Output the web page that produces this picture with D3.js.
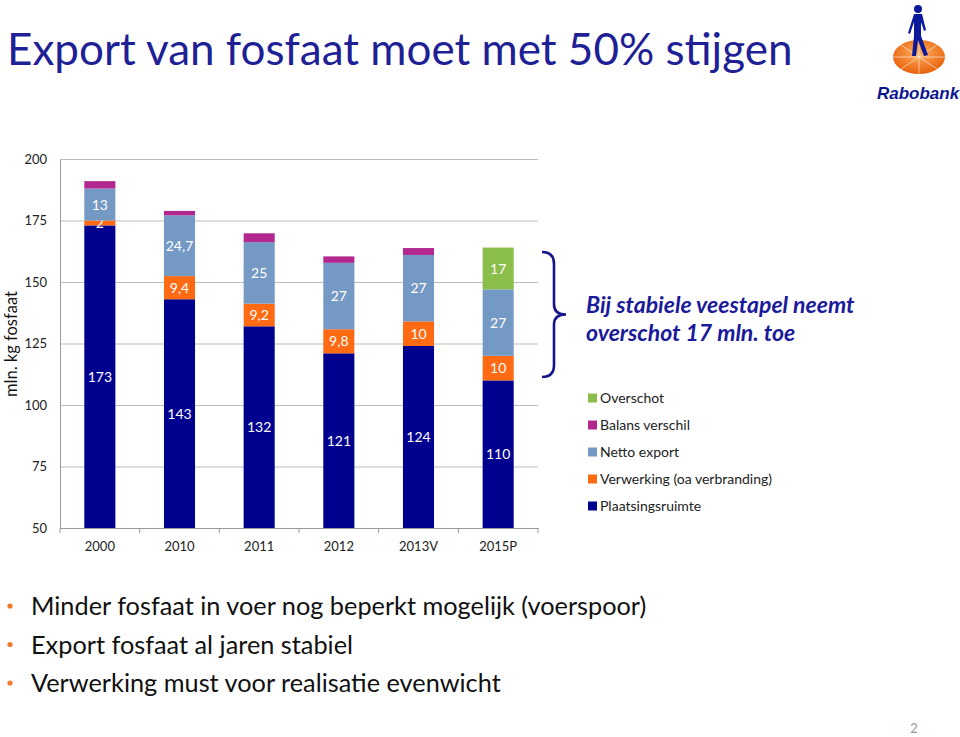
<!DOCTYPE html>
<html><head><meta charset="utf-8">
<script src="https://cdn.jsdelivr.net/npm/d3@7/dist/d3.min.js"></script>
<style>
html,body{margin:0;padding:0;background:#fff;}
svg{display:block;font-family:Lato,"Open Sans",sans-serif;}
</style></head>
<body>
<svg id="c" width="960" height="737"></svg>
<script>
// ---- data ----
const categories = ["2000","2010","2011","2012","2013V","2015P"];
const plaatsingsruimte = [173,143,132,121,124,110];
const verwerking      = [2,9.4,9.2,9.8,10,10];
const nettoExport     = [13,24.7,25,27,27,27];
const balansVerschil  = [3,1.8,3.6,2.6,2.8,0];
const overschot       = [0,0,0,0,0,17];
const yTicks = [50,75,100,125,150,175,200];
const seriesNames = ["Plaatsingsruimte","Verwerking (oa verbranding)","Netto export","Balans verschil","Overschot"];
const seriesLabelled = [true,true,true,false,true];
const legendOrder = ["Overschot","Balans verschil","Netto export","Verwerking (oa verbranding)","Plaatsingsruimte"];
const bullets = ["Minder fosfaat in voer nog beperkt mogelijk (voerspoor)","Export fosfaat al jaren stabiel","Verwerking must voor realisatie evenwicht"];

const colors = {"Plaatsingsruimte":"#00008f","Verwerking (oa verbranding)":"#ff6a13","Netto export":"#7399c4","Balans verschil":"#b3288f","Overschot":"#8abd4a"};
const seriesValues = [plaatsingsruimte,verwerking,nettoExport,balansVerschil,overschot];

const svg = d3.select("#c");
const navy = "#1f1f96";

// title
svg.append("text").attr("x",7).attr("y",65).attr("fill",navy)
  .style("font-size","44px").style("font-family","Lato, sans-serif")
  .text("Export van fosfaat moet met 50% stijgen");

// logo
const logo = svg.append("g");
const grad = svg.append("defs").append("radialGradient").attr("id","og").attr("cx","50%").attr("cy","40%").attr("r","60%");
grad.append("stop").attr("offset","0%").attr("stop-color","#ffb060");
grad.append("stop").attr("offset","100%").attr("stop-color","#e8600a");
logo.append("ellipse").attr("cx",919).attr("cy",57).attr("rx",26).attr("ry",17).attr("fill","url(#og)");
logo.append("path").attr("d","M893,57 L945,57 M919,40 L919,74 M901,45 L937,69 M901,69 L937,45").attr("stroke","#fff").attr("stroke-width",0.8).attr("opacity",0.7);
logo.append("circle").attr("cx",918).attr("cy",9).attr("r",4).attr("fill","#0a1a9a");
logo.append("path").attr("d","M914,14 L922,14 L926,30 L924,31 L921,22 L921,36 L928,55 L924,56 L918,40 L916,56 L912,56 L914,36 L914,22 L910,34 L908,33 Z").attr("fill","#0a1a9a");
logo.append("text").attr("x",918).attr("y",99).attr("text-anchor","middle").attr("fill","#0a1690")
  .style("font-size","17px").style("font-weight","bold").style("font-style","italic").style("font-family","Liberation Sans, Arial, sans-serif")
  .text("Rabobank");

// chart
const x0 = 60, x1 = 538, yTop = 159, yBot = 528;
const x = d3.scaleBand().domain(categories).range([x0,x1]).paddingInner(0.61).paddingOuter(0.305);
const y = d3.scaleLinear().domain([50,200]).range([yBot,yTop]).clamp(true);

// grid
const grid = svg.append("g").attr("transform",`translate(${x0},0)`)
  .call(d3.axisLeft(y).tickValues(yTicks).tickSize(-(x1-x0)).tickFormat(""));
grid.select(".domain").remove();
grid.selectAll("line").attr("stroke","#bdbdbd").attr("stroke-width",1);
grid.selectAll(".tick").filter(d=>d===50).remove();

// y axis labels
const ya = svg.append("g").attr("transform",`translate(${x0},0)`)
  .call(d3.axisLeft(y).tickValues(yTicks).tickSize(0).tickPadding(13));
ya.select(".domain").attr("stroke","#9a9a9a");
ya.selectAll("text").style("font-size","13px").attr("fill","#222").style("font-family","Lato, sans-serif");

// stacked bars
const rows = categories.map((c,i)=>{const o={cat:c}; seriesNames.forEach((s,k)=>o[s]=seriesValues[k][i]); return o;});
const stack = d3.stack().keys(seriesNames)(rows);
const fmt = v => String(v).replace(".",",");
stack.forEach((layer,k)=>{
  const g = svg.append("g");
  g.selectAll("rect").data(layer.filter(d=>d[1]-d[0]>0)).join("rect")
    .attr("x",d=>x(d.data.cat)).attr("width",x.bandwidth())
    .attr("y",d=>y(d[1])).attr("height",d=>y(d[0])-y(d[1]))
    .attr("fill",colors[layer.key]);
  if(seriesLabelled[k]){
    g.selectAll("text").data(layer.filter(d=>d[1]-d[0]>0)).join("text")
      .attr("x",d=>x(d.data.cat)+x.bandwidth()/2)
      .attr("y",d=>(y(d[0])+y(d[1]))/2)
      .attr("dy","0.36em").attr("text-anchor","middle").attr("fill","#fff")
      .style("font-size","14px").style("font-family","Lato, sans-serif")
      .text(d=>fmt(d.data[layer.key]));
  }
});

// x axis
const xa = svg.append("g").attr("transform",`translate(0,${yBot})`)
  .call(d3.axisBottom(x).tickSize(0).tickPadding(14));
xa.select(".domain").attr("stroke","#9a9a9a");
xa.selectAll("text").style("font-size","13px").attr("fill","#222").style("font-family","Lato, sans-serif");
// category boundary ticks
svg.append("g").selectAll("line").data(categories.map((c,i)=>x0+i*x.step()).concat([x1])).join("line")
  .attr("x1",d=>d).attr("x2",d=>d).attr("y1",yBot).attr("y2",yBot+5).attr("stroke","#9a9a9a");

// y title
svg.append("text").attr("transform","translate(17,344) rotate(-90)").attr("text-anchor","middle")
  .style("font-size","16.5px").attr("fill","#111").style("font-family","Lato, sans-serif").text("mln. kg fosfaat");

// brace
const bx = 542, by0 = 252, by1 = 377, bm = (by0+by1)/2;
svg.append("path").attr("fill","none").attr("stroke","#16168c").attr("stroke-width",2.6)
  .attr("d",`M${bx},${by0} Q${bx+12},${by0} ${bx+12},${by0+12} L${bx+12},${bm-10} Q${bx+12},${bm} ${bx+24},${bm} Q${bx+12},${bm} ${bx+12},${bm+10} L${bx+12},${by1-12} Q${bx+12},${by1} ${bx},${by1}`);

// annotation
const ann = svg.append("text").attr("fill","#1a1a9a").style("font-size","23px").style("font-style","italic").style("font-weight","bold").style("font-family","Lato, sans-serif");
ann.append("tspan").attr("x",586).attr("y",313).text("Bij stabiele veestapel neemt");
ann.append("tspan").attr("x",586).attr("y",341).text("overschot 17 mln. toe");

// legend
const lg = svg.append("g").selectAll("g").data(legendOrder).join("g")
  .attr("transform",(d,i)=>`translate(588,${398+i*27})`);
lg.append("rect").attr("x",0).attr("y",-4.5).attr("width",9).attr("height",9).attr("fill",d=>colors[d]);
lg.append("text").attr("x",12).attr("dy","0.35em").style("font-size","14px").attr("fill","#222").style("font-family","Lato, sans-serif").text(d=>d);

// bullets
const bl = svg.append("g").selectAll("g").data(bullets).join("g")
  .attr("transform",(d,i)=>`translate(0,${606+i*38.5})`);
bl.append("circle").attr("cx",10).attr("cy",0).attr("r",2.6).attr("fill","#ee7a2a");
bl.append("text").attr("x",31).attr("dy","0.36em").style("font-size","25.3px").attr("fill","#111").style("font-family","Lato, sans-serif").text(d=>d);

// page number
svg.append("text").attr("x",914).attr("y",733).attr("text-anchor","middle").style("font-size","13px").attr("fill","#999").text("2");
</script>
</body></html>
